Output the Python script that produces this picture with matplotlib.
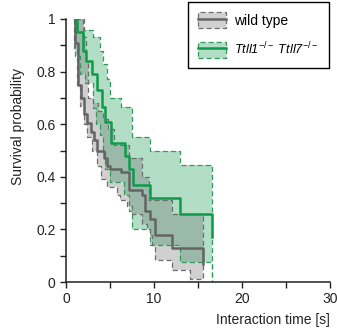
import numpy as np
import matplotlib
matplotlib.use('Agg')
import matplotlib.pyplot as plt
from matplotlib.patches import Patch
from matplotlib.lines import Line2D

plt.rcParams['font.family'] = ['Liberation Sans', 'DejaVu Sans']
plt.rcParams['font.size'] = 10
plt.rcParams['mathtext.fontset'] = 'custom'
plt.rcParams['mathtext.rm'] = 'Liberation Sans'
plt.rcParams['mathtext.it'] = 'Liberation Sans:italic'

###############################################################################
# wild type: Kaplan-Meier steps (time, survival after the step)
wt_t = [1.0, 1.0, 1.4, 1.65, 2.05, 2.4, 2.8, 3.2, 3.55, 4.3, 4.7, 5.0, 6.3, 7.1, 8.6, 9.0, 9.55, 10.1, 12.0, 15.6]
wt_p = [1.0, 0.91, 0.75, 0.70, 0.64, 0.605, 0.57, 0.54, 0.50, 0.47, 0.44, 0.43, 0.42, 0.35, 0.33, 0.27, 0.24, 0.18, 0.13, 0.07]
wt_hi_t = [1.0, 2.0, 2.3, 2.5, 3.1, 3.6, 4.2, 4.8, 5.5, 7.1, 8.6, 9.4, 12.1, 15.6]
wt_hi_p = [1.0, 0.93, 0.84, 0.70, 0.68, 0.65, 0.62, 0.58, 0.52, 0.47, 0.40, 0.31, 0.26, 0.01]
wt_lo_t = [0.9, 0.9, 1.25, 1.6, 2.0, 2.4, 2.9, 3.5, 4.0, 4.6, 5.8, 6.1, 6.9, 7.5, 8.6, 9.2, 9.55, 9.75, 10.1, 12.0, 14.1, 15.6]
wt_lo_p = [1.0, 0.89, 0.75, 0.67, 0.60, 0.55, 0.50, 0.44, 0.39, 0.36, 0.33, 0.31, 0.29, 0.26, 0.22, 0.20, 0.18, 0.14, 0.085, 0.046, 0.01, 0.01]

# Ttll1-/- Ttll7-/-
ko_t = [1.25, 1.25, 1.9, 2.3, 2.9, 3.5, 4.05, 4.45, 5.1, 6.7, 7.2, 7.6, 9.55, 12.95, 16.55]
ko_p = [1.0, 0.95, 0.88, 0.84, 0.79, 0.73, 0.667, 0.61, 0.53, 0.48, 0.43, 0.37, 0.32, 0.26, 0.17]
ko_hi_t = [1.0, 1.95, 3.1, 3.85, 4.25, 4.6, 5.0, 6.3, 7.5, 9.55, 12.95, 16.55]
ko_hi_p = [1.0, 0.96, 0.93, 0.88, 0.83, 0.77, 0.70, 0.667, 0.55, 0.50, 0.445, 0.0]
ko_lo_t = [1.0, 1.0, 1.6, 2.2, 3.05, 3.4, 3.9, 4.2, 4.4, 5.0, 6.6, 7.1, 7.5, 9.55, 12.95, 16.55]
ko_lo_p = [1.0, 0.86, 0.79, 0.755, 0.66, 0.60, 0.56, 0.50, 0.43, 0.38, 0.33, 0.27, 0.20, 0.14, 0.077, 0.0]

labels = ['wild type', 'Ttll1$^{-/-}$ Ttll7$^{-/-}$']
###############################################################################
GRAY_LINE = '#646464'
GRAY_FILL = (104 / 255, 104 / 255, 104 / 255, 0.31)
GREEN_LINE = '#0f9a4c'
GREEN_FILL = '#b2dec6'
GREEN_EDGE = '#2f9a5c'


def steps(t, p):
    # corner points of a post-step curve
    xs, ys = [t[0]], [p[0]]
    for i in range(1, len(t)):
        xs += [t[i], t[i]]
        ys += [p[i - 1], p[i]]
    return np.array(xs), np.array(ys)


def band(ax, hi_t, hi_p, lo_t, lo_p, face, edge):
    ux, uy = steps(hi_t, hi_p)
    lx, ly = steps(lo_t, lo_p)
    ax.fill(np.r_[ux, lx[::-1]], np.r_[uy, ly[::-1]], color=face, lw=0)
    ax.plot(ux, uy, color=edge, lw=0.9, ls=(0, (4, 2.5)))
    ax.plot(lx, ly, color=edge, lw=0.9, ls=(0, (4, 2.5)))


fig = plt.figure(figsize=(3.37, 3.33), dpi=100)
ax = fig.add_axes([0.196, 0.153, 0.783, 0.79])

band(ax, ko_hi_t, ko_hi_p, ko_lo_t, ko_lo_p, GREEN_FILL, GREEN_EDGE)
band(ax, wt_hi_t, wt_hi_p, wt_lo_t, wt_lo_p, GRAY_FILL, '#6e6e6e')

x, y = steps(wt_t, wt_p)
ax.plot(x, y, color=GRAY_LINE, lw=1.8)
x, y = steps(ko_t, ko_p)
ax.plot(x, y, color=GREEN_LINE, lw=1.8)

ax.set_xlim(0, 30)
ax.set_ylim(0, 1)
ax.set_xticks([0, 10, 20, 30])
ax.set_xticks([5, 15, 25], minor=True)
ax.set_yticks([0, 0.2, 0.4, 0.6, 0.8, 1.0])
ax.set_yticklabels(['0', '0.2', '0.4', '0.6', '0.8', '1'])
ax.set_yticks([0.1, 0.3, 0.5, 0.7, 0.9], minor=True)
ax.tick_params(which='both', direction='out', length=4.5, width=1, pad=3,
               labelsize=10, colors='#222222')
for s in ['top', 'right']:
    ax.spines[s].set_visible(False)
for s in ['left', 'bottom']:
    ax.spines[s].set_linewidth(1.1)
    ax.spines[s].set_color('#222222')

ax.set_xlabel('Interaction time [s]', ha='right', x=1.0, labelpad=5, fontsize=10, color='#222222')
ax.set_ylabel('Survival probability', y=0.59, labelpad=8, fontsize=10, color='#222222')

h_wt = (Patch(facecolor=(0.82, 0.82, 0.82), edgecolor='#6e6e6e', ls=(0, (4, 2.5)), lw=0.9),
        Line2D([], [], color=GRAY_LINE, lw=1.8))
h_ko = (Patch(facecolor=GREEN_FILL, edgecolor=GREEN_EDGE, ls=(0, (4, 2.5)), lw=0.9),
        Line2D([], [], color=GREEN_LINE, lw=1.8))
leg = fig.legend([h_wt, h_ko], labels, loc='upper right', bbox_to_anchor=(0.976, 0.994),
                 fancybox=False, edgecolor='black', framealpha=1, fontsize=10,
                 handlelength=2.0, handleheight=1.4, labelspacing=0.9,
                 handletextpad=0.6, borderpad=0.75, borderaxespad=0)
leg.get_frame().set_linewidth(1.0)
leg.get_texts()[1].set_style('italic')
leg.get_texts()[1].set_fontsize(9.2)

plt.savefig('out.png', dpi=100)
